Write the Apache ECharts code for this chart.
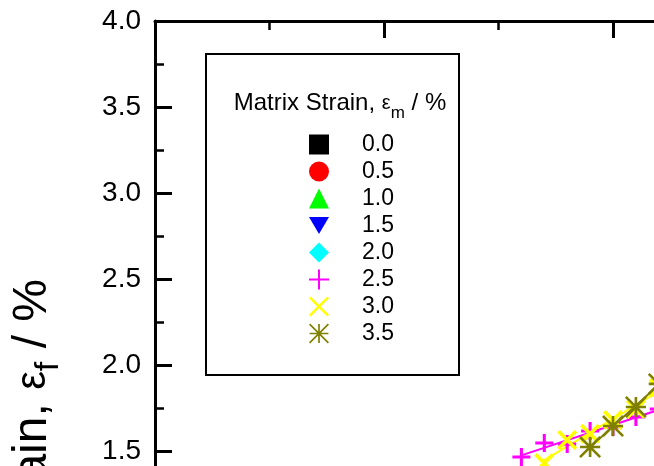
<!DOCTYPE html>
<html><head><meta charset="utf-8">
<script src="https://cdn.jsdelivr.net/npm/echarts@6/dist/echarts.min.js"></script>
<style>html,body{margin:0;padding:0;background:#fff}#c{width:654px;height:466px}</style>
</head><body><div id="c"></div>
<script>
// ---- data ----
const seriesNames = ['0.0','0.5','1.0','1.5','2.0','2.5','3.0','3.5'];
const x_00 = [], y_00 = [];
const x_05 = [], y_05 = [];
const x_10 = [], y_10 = [];
const x_15 = [], y_15 = [];
const x_20 = [], y_20 = [];
const x_25 = [1.6, 1.7, 1.8, 1.9, 2.0, 2.1, 2.2];
const y_25 = [1.465, 1.547, 1.54, 1.616, 1.64, 1.698, 1.744];
const x_30 = [1.7, 1.8, 1.9, 2.0, 2.1, 2.2];
const y_30 = [1.43, 1.564, 1.60, 1.68, 1.744, 1.866];
const x_35 = [1.9, 2.0, 2.1, 2.2];
const y_35 = [1.523, 1.645, 1.756, 1.89];
const legendTitle = ['Matrix Strain, ', 'ε', 'm', ' / %'];
const yTitle = ['Fibre Strain, ', 'ε', 'f', ' / %'];

const xs = [x_00,x_05,x_10,x_15,x_20,x_25,x_30,x_35];
const ys = [y_00,y_05,y_10,y_15,y_20,y_25,y_30,y_35];
const colors = ['#000000','#FF0000','#00FF00','#0000FF','#00FFFF','#FF00FF','#FFFF00','#808000'];
const hasFit = [false,false,false,false,false,true,true,true];

function bars(list, T){
  let s = '';
  for (const [a, L] of list){
    const r = a*Math.PI/180, c = Math.cos(r), sn = Math.sin(r);
    const pts = [[-L,-T],[L,-T],[L,T],[-L,T]].map(([x,y]) => (x*c - y*sn).toFixed(4) + ',' + (x*sn + y*c).toFixed(4));
    s += 'M' + pts[0] + ' L' + pts[1] + ' L' + pts[2] + ' L' + pts[3] + ' Z ';
  }
  return 'path://' + s;
}
const S2 = Math.SQRT2;
const plusSym = T => bars([[0,1],[90,1]], T);
const crossSym = T => bars([[45,1],[135,1]], T);
const starSym = T => bars([[0,1],[90,1],[45,S2],[135,S2]], T);
const downTri = 'path://M-1,-0.85 L1,-0.85 L0,0.85 Z';

const plotSymbols = ['rect','circle','triangle',downTri,'diamond',plusSym(0.17),crossSym(0.15),starSym(0.13)];
const plotSizes = [16,16,18,18,18,18,20,22];
const legendIcons = ['rect','circle','triangle',downTri,'diamond',plusSym(0.1),crossSym(0.09),starSym(0.09)];

function fit(x, y){
  const n = x.length;
  let sx=0, sy=0, sxx=0, sxy=0;
  for (let i=0;i<n;i++){ sx+=x[i]; sy+=y[i]; sxx+=x[i]*x[i]; sxy+=x[i]*y[i]; }
  const b = (n*sxy - sx*sy)/(n*sxx - sx*sx);
  const a = (sy - b*sx)/n;
  const x0 = Math.min(...x), x1 = Math.max(...x);
  return [[x0, a+b*x0],[x1, a+b*x1]];
}

const FONT = "'Liberation Sans', Arial, Helvetica, sans-serif";
const series = [];
seriesNames.forEach((nm, i) => {
  if (hasFit[i]) {
    series.push({type:'line', name: nm + ' fit', data: fit(xs[i], ys[i]), symbol:'none', silent:true,
      lineStyle:{color:colors[i], width:2}, z:2, xAxisIndex:0, yAxisIndex:0});
  }
});
seriesNames.forEach((nm, i) => {
  series.push({type:'scatter', name: nm, data: xs[i].map((v,k)=>[v, ys[i][k]]),
    symbol: plotSymbols[i], symbolSize: plotSizes[i],
    itemStyle:{color:colors[i], opacity:1}, z:3, xAxisIndex:0, yAxisIndex:0});
});

const axisCommon = {
  axisLine:{show:true, onZero:false, lineStyle:{color:'#000', width:3}},
  axisTick:{show:true, inside:true, length:17, lineStyle:{color:'#000', width:3}},
  minorTick:{show:true, splitNumber:2, length:9, lineStyle:{color:'#000', width:2.5}},
  splitLine:{show:false}, minorSplitLine:{show:false}
};

const richT = {
  a:{fontSize:24, fontFamily:FONT, color:'#000'},
  e:{fontSize:20, fontFamily:FONT, color:'#000'},
  s:{fontSize:17, fontFamily:FONT, color:'#000', padding:[20,0,0,0]}
};
const richY = {
  a:{fontSize:48, fontFamily:FONT, color:'#000'},
  e:{fontSize:42, fontFamily:FONT, color:'#000'},
  s:{fontSize:34, fontFamily:FONT, color:'#000', padding:[32,0,0,0]}
};

const option = {
  animation:false,
  backgroundColor:'#fff',
  grid:{left:155, top:21, width:687, height:688, show:false, containLabel:false, outerBoundsMode:'none'},
  xAxis:[
    Object.assign({type:'value', position:'bottom', min:0, max:3, interval:1,
      axisLabel:{show:true, fontSize:28, color:'#000', fontFamily:FONT}}, axisCommon),
    Object.assign({type:'value', position:'top', min:0, max:3, interval:1,
      axisLabel:{show:false}}, axisCommon)
  ],
  yAxis:[
    Object.assign({type:'value', position:'left', min:0, max:4, interval:0.5,
      axisLabel:{show:true, fontSize:28, color:'#000', fontFamily:FONT, margin:14,
        formatter: v => v.toFixed(1)}}, axisCommon)
  ],
  legend:{
    show:true, orient:'vertical', left:309, top:133, selectedMode:false,
    itemWidth:20, itemHeight:20, itemGap:4, padding:0,
    textStyle:{fontSize:23, fontFamily:FONT, color:'#000', padding:[0,0,0,28]},
    data: seriesNames.map((nm,i)=>({name:nm, icon:legendIcons[i]}))
  },
  graphic:[
    {type:'rect', shape:{x:206, y:54, width:253, height:321}, style:{fill:'none', stroke:'#000', lineWidth:2}, z:10},
    {type:'text', x:340, y:103, z:10, style:{
      text:'{a|'+legendTitle[0]+'}{e|'+legendTitle[1]+'}{s|'+legendTitle[2]+'}{a|'+legendTitle[3]+'}',
      rich:richT, align:'center', verticalAlign:'middle'}},
    {type:'text', x:33, y:279, rotation:Math.PI/2, z:10, style:{
      text:'{a|'+yTitle[0]+'}{e|'+yTitle[1]+'}{s|'+yTitle[2]+'}{a|'+yTitle[3]+'}',
      rich:richY, align:'right', verticalAlign:'middle'}}
  ],
  series: series
};
const chart = echarts.init(document.getElementById('c'), null, {renderer:'canvas'});
chart.setOption(option);
</script>
</body></html>
